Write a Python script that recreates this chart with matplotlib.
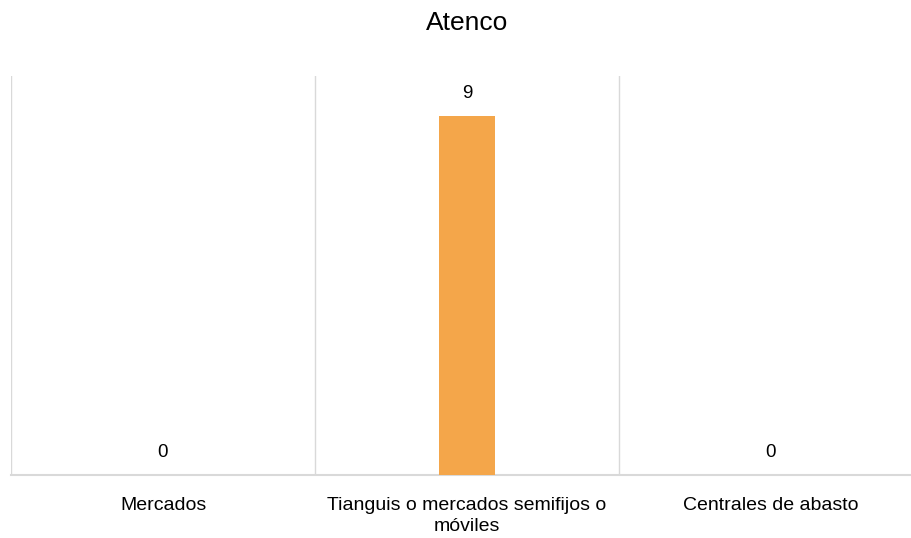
import matplotlib
matplotlib.use('Agg')
import matplotlib.pyplot as plt
from matplotlib import font_manager

categorias = ['Mercados', 'Tianguis o mercados semifijos o\nmóviles', 'Centrales de abasto']
valores = [0, 9, 0]
titulo = 'Atenco'

# fuente estrecha si existe
nombres = {f.name for f in font_manager.fontManager.ttflist}
fuente = 'Liberation Sans Narrow' if 'Liberation Sans Narrow' in nombres else 'Liberation Sans'
plt.rcParams['font.family'] = [fuente, 'DejaVu Sans']

fig = plt.figure(figsize=(9.11, 5.38), dpi=100)
ax = fig.add_axes([11 / 911, 63 / 538, 912 / 911, 399 / 538])

x = range(len(categorias))
barras = ax.bar(x, valores, width=0.184, color='#F4A64A', zorder=3)

for b, v in zip(barras, valores):
    ax.annotate(str(v), (b.get_x() + b.get_width() / 2, b.get_height()),
                xytext=(0, 10), textcoords='offset points',
                ha='center', va='bottom', fontsize=13.5, color='#000000')

ax.set_xlim(-0.5, len(categorias) - 0.5)
ax.set_ylim(0, 10)

# lineas entre categorias
for xi in range(len(categorias) + 1):
    ax.axvline(xi - 0.5, color='#d9d9d9', linewidth=1.0, zorder=1)

ax.set_xticks(list(x))
ax.set_xticklabels(categorias, fontsize=14, color='#000000', linespacing=1.3)
ax.tick_params(axis='x', length=0, pad=16)
ax.set_yticks([])
for lado in ['top', 'right', 'left']:
    ax.spines[lado].set_visible(False)
ax.spines['bottom'].set_color('#d9d9d9')
ax.spines['bottom'].set_linewidth(1.5)

fig.text(467 / 911, 1 - 23 / 538, titulo, ha='center', va='center', fontsize=19, color='#000000')

fig.savefig('out.png', dpi=100)
